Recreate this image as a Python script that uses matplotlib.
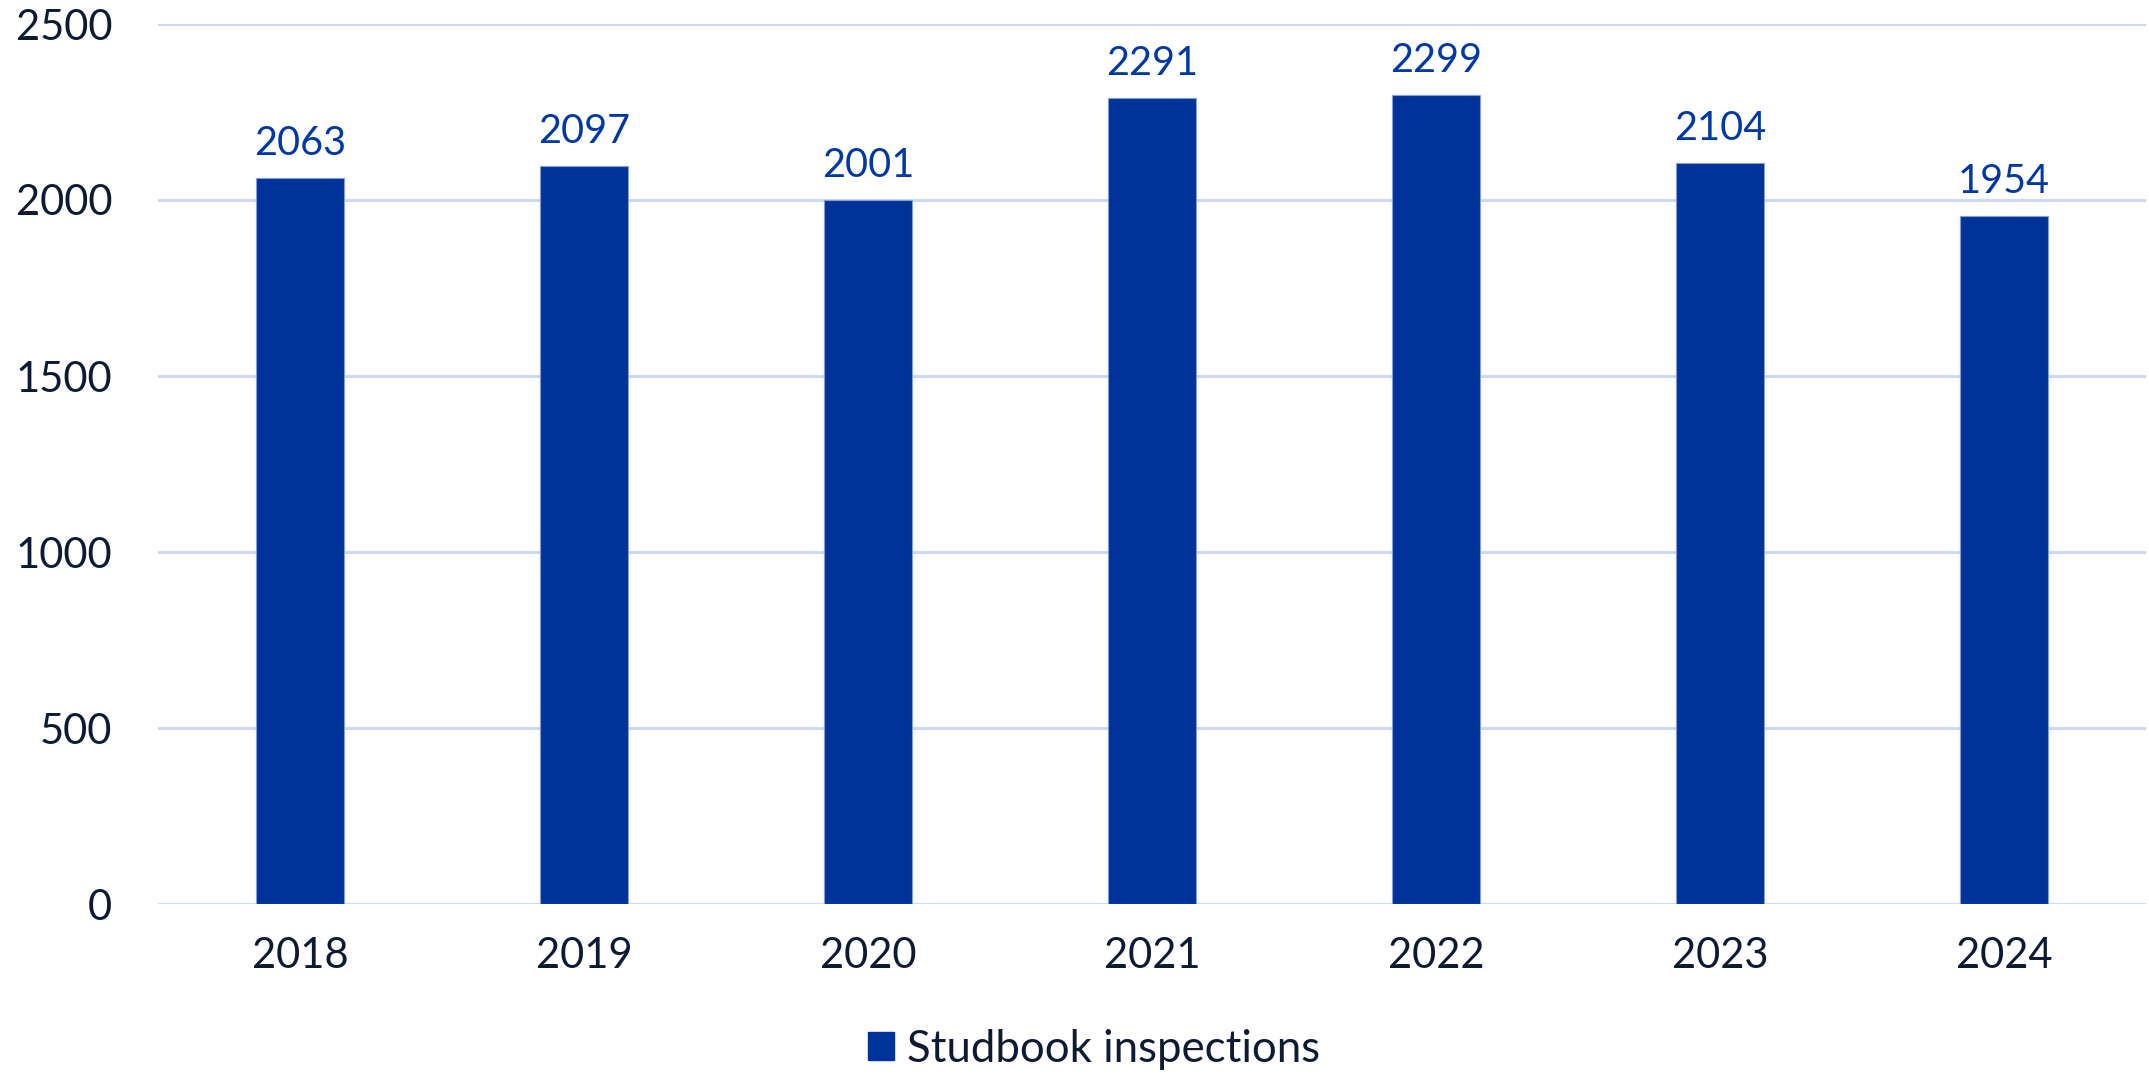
import matplotlib
matplotlib.use("Agg")
import matplotlib.pyplot as plt
from matplotlib.patches import Patch

years = ["2018", "2019", "2020", "2021", "2022", "2023", "2024"]
inspections = [2063, 2097, 2001, 2291, 2299, 2104, 1954]
series_name = "Studbook inspections"
y_ticks = [0, 500, 1000, 1500, 2000, 2500]

plt.rcParams['font.family'] = ['Lato', 'DejaVu Sans']

W, H = 2149, 1074
fig = plt.figure(figsize=(W / 100, H / 100), dpi=100)
ax = fig.add_axes([158 / W, 1 - 904 / H, (2146 - 158) / W, (904 - 24) / H])

bar_color = "#003399"
text_color = "#0d1a33"
label_color = "#0039a6"
grid_color = "#c5d7f7"

x = range(len(years))
ax.bar(x, inspections, width=0.313, color=bar_color, edgecolor="#7f9fe0", linewidth=0.8, zorder=3)
for xi, v in zip(x, inspections):
    ax.annotate(str(v), (xi, v), xytext=(0, 16), textcoords="offset pixels",
                ha="center", va="bottom", fontsize=28.5, color=label_color)

ax.set_xlim(-0.5, len(years) - 0.5)
ax.set_ylim(0, 2500)
ax.set_yticks(y_ticks)
ax.set_yticklabels([str(t) for t in y_ticks])
ax.set_xticks(list(x))
ax.set_xticklabels(years)
ax.tick_params(axis="both", length=0, labelsize=30, labelcolor=text_color)
ax.tick_params(axis="y", pad=33)
ax.tick_params(axis="x", pad=24)
ax.grid(axis="y", color=grid_color, linewidth=2, zorder=0)
for s in ax.spines.values():
    s.set_visible(False)

handles = [Patch(facecolor=bar_color, edgecolor=bar_color, label=series_name)]
fig.legend(handles=handles, loc="center", bbox_to_anchor=(1094 / W, 1 - 1049 / H),
           frameon=False, fontsize=31.5, handlelength=0.6, handleheight=0.6,
           handletextpad=0.3, labelcolor=text_color, borderaxespad=0, borderpad=0)

fig.savefig("out.png", dpi=100, facecolor="white")
